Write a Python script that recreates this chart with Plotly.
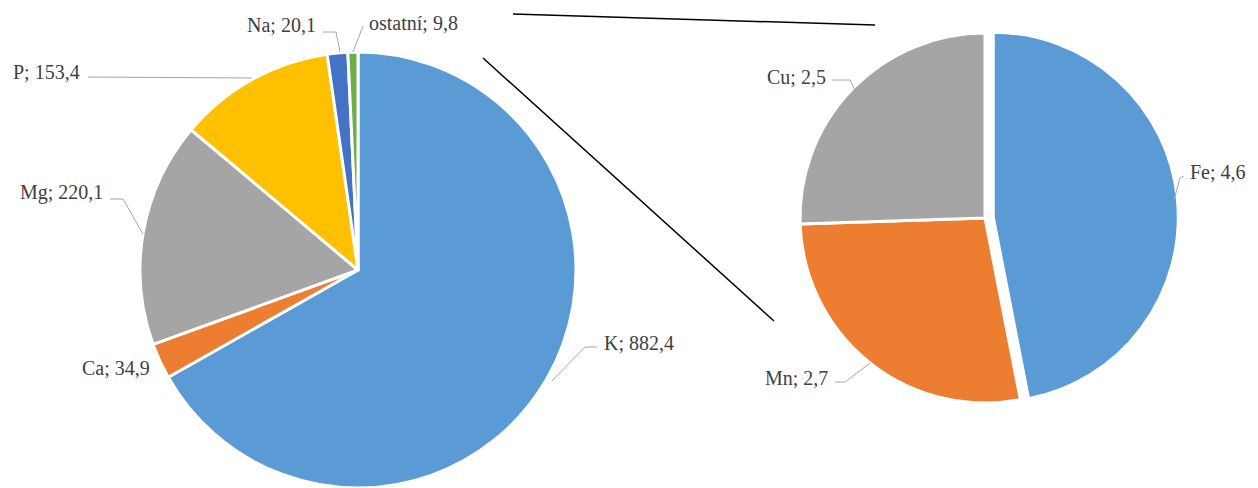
import plotly.graph_objects as go

# ---- data ----
main_labels = ["K", "Ca", "Mg", "P", "Na", "ostatní"]
main_values = [882.4, 34.9, 220.1, 153.4, 20.1, 9.8]
main_colors = ["#5B9BD5", "#ED7D31", "#A5A5A5", "#FFC000", "#4472C4", "#70AD47"]

sub_labels = ["Fe", "Mn", "Cu"]
sub_values = [4.6, 2.7, 2.5]
sub_colors = ["#5B9BD5", "#ED7D31", "#A5A5A5"]
sub_pull = [0.045, 0, 0]

W, H = 1258, 488


def fmt(label, v):
    return f"{label}; {v:.1f}".replace(".", ",")


def px(x):
    return x / W


def py(y):
    return 1 - y / H


fig = go.Figure()

fig.add_trace(go.Pie(
    labels=main_labels, values=main_values, sort=False, direction="clockwise",
    rotation=0, marker=dict(colors=main_colors, line=dict(color="white", width=3)),
    textinfo="none", hoverinfo="label+value", showlegend=False,
    domain=dict(x=[px(140), px(576)], y=[0, 436 / H]),
))

fig.add_trace(go.Pie(
    labels=sub_labels, values=sub_values, sort=False, direction="clockwise",
    rotation=0, pull=sub_pull,
    marker=dict(colors=sub_colors, line=dict(color="white", width=3)),
    textinfo="none", hoverinfo="label+value", showlegend=False,
    domain=dict(x=[px(791.7), px(1178.3)], y=[76.7 / H, 463.3 / H]),
))

# label layout: (x, y, anchor) in pixels, and leader line points
label_pos = {
    "K": (602, 343, "left", [(597, 347), (585, 347), (552, 381)]),
    "Ca": (152, 368, "right", None),
    "Mg": (105, 192, "right", [(110, 199), (123, 199), (143, 234)]),
    "P": (82, 72, "right", [(88, 77), (252, 78)]),
    "Na": (318, 25, "right", [(323, 32), (336, 32), (340, 52)]),
    "ostatní": (367, 23, "left", [(363, 26), (353, 52)]),
    "Fe": (1188, 172, "left", [(1184, 176), (1180, 178), (1174, 200)]),
    "Mn": (830, 378, "right", [(835, 382), (845, 382), (870, 363)]),
    "Cu": (828, 77, "right", [(832, 80), (850, 80), (855, 90)]),
}

annotations = []
shapes = []
all_labels = list(zip(main_labels, main_values)) + list(zip(sub_labels, sub_values))
for lab, val in all_labels:
    x, y, anchor, line = label_pos[lab]
    annotations.append(dict(
        x=px(x), y=py(y), xref="paper", yref="paper", xanchor=anchor, yanchor="middle",
        text=fmt(lab, val), showarrow=False,
        font=dict(family="'Liberation Serif', 'Times New Roman', 'DejaVu Serif', serif",
                  size=20, color="#404040"),
    ))
    if line:
        path = "M " + " L ".join(f"{px(a)},{py(b)}" for a, b in line)
        shapes.append(dict(type="path", path=path, xref="paper", yref="paper",
                           line=dict(color="#A6A6A6", width=1)))

# connector lines between pies
for (x0, y0), (x1, y1) in [((513, 14), (875, 25)), ((483, 58), (774, 321))]:
    shapes.append(dict(type="line", x0=px(x0), y0=py(y0), x1=px(x1), y1=py(y1),
                       xref="paper", yref="paper", line=dict(color="black", width=1.5)))

fig.update_layout(
    width=W, height=H, margin=dict(l=0, r=0, t=0, b=0),
    paper_bgcolor="white", plot_bgcolor="white",
    annotations=annotations, shapes=shapes,
)

fig.write_html("out.html", post_script="document.body.style.margin='0';",
               config={"displayModeBar": False})
